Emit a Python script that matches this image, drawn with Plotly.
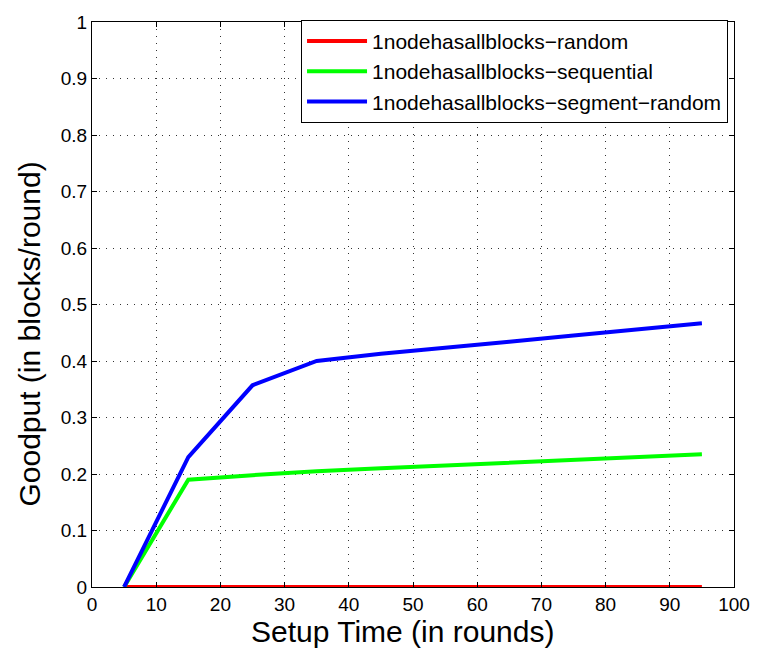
import plotly.graph_objects as go

setup_time = [5, 15, 25, 35, 45, 55, 65, 75, 85, 95]
random_vals = [0, 0, 0, 0, 0, 0, 0, 0, 0, 0]
sequential_vals = [0, 0.19, 0.198, 0.205, 0.21, 0.215, 0.22, 0.225, 0.23, 0.235]
segment_random_vals = [0, 0.23, 0.357, 0.40, 0.413, 0.423, 0.434, 0.445, 0.456, 0.467]

series_names = ["1nodehasallblocks\u2212random",
                "1nodehasallblocks\u2212sequential",
                "1nodehasallblocks\u2212segment\u2212random"]
colors = ["#ff0000", "#00ff00", "#0000ff"]

fig = go.Figure()
for name, vals, c in zip(series_names, [random_vals, sequential_vals, segment_random_vals], colors):
    fig.add_trace(go.Scatter(x=setup_time, y=vals, mode="lines", name=name,
                             line=dict(color=c, width=4)))

font_family = "Liberation Sans, Arial, sans-serif"
axis_common = dict(
    showline=True, linecolor="black", linewidth=1, mirror="ticks",
    ticks="inside", ticklen=5, tickcolor="black",
    showgrid=True, gridcolor="#333333", griddash="1px,6px", gridwidth=1,
    zeroline=False, tickfont=dict(size=19, color="black", family=font_family),
)

fig.update_layout(
    width=762, height=658,
    margin=dict(l=92, r=27, t=12, b=71),
    paper_bgcolor="white", plot_bgcolor="white",
    font=dict(family=font_family, color="black"),
    xaxis=dict(range=[0, 100], dtick=10, tick0=0, **axis_common),
    yaxis=dict(range=[0, 1], dtick=0.1, tick0=0, **axis_common),
    legend=dict(x=0.9907, y=1.004, xanchor="right", yanchor="top",
                bgcolor="white", bordercolor="black", borderwidth=1,
                font=dict(size=21, color="black", family=font_family),
                tracegroupgap=0, itemwidth=60),
    showlegend=True,
    annotations=[
        dict(text="Setup Time (in rounds)", xref="paper", yref="paper",
             x=(403 - 92) / 643, y=-(632 - 587) / 575, xanchor="center", yanchor="middle",
             showarrow=False, font=dict(size=30, color="black", family=font_family)),
        dict(text="Goodput (in blocks/round)", xref="paper", yref="paper",
             x=-(92 - 29) / 643, y=(587 - 330) / 575, xanchor="center", yanchor="middle",
             textangle=-90, showarrow=False,
             font=dict(size=30, color="black", family=font_family)),
    ],
)

fig.write_html("out.html")
